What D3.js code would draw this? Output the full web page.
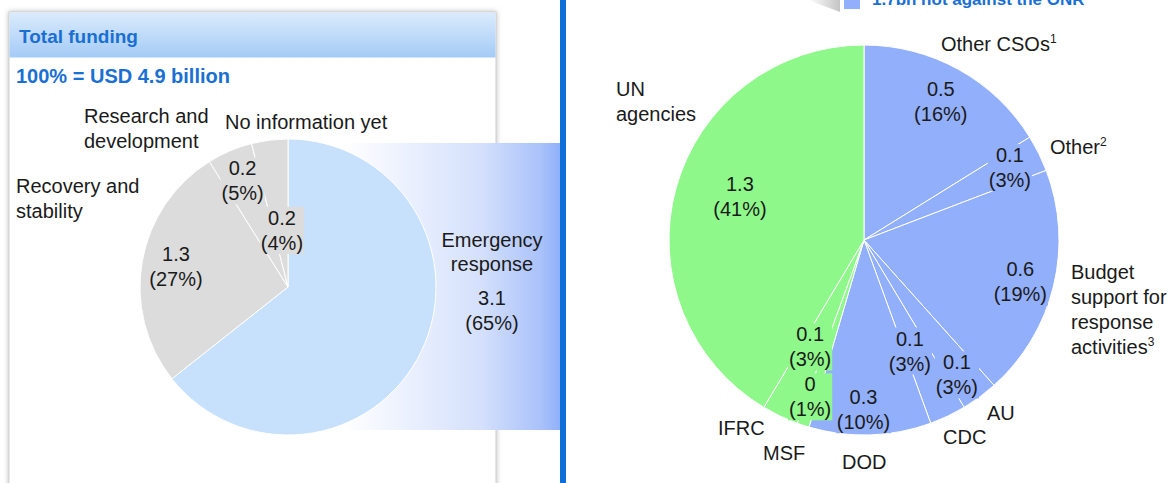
<!DOCTYPE html>
<html>
<head>
<meta charset="utf-8">
<script src="https://cdn.jsdelivr.net/npm/d3@7"></script>
<style>
  body { margin: 0; background: #fff; }
  svg text { font-family: "Liberation Sans", Arial, sans-serif; }
</style>
</head>
<body>
<div id="chart"></div>
<script>
'use strict';

// ---- data: total funding split (USD bn, share %)
var fundCategories = [ 'Emergency response', 'Recovery and stability', 'Research and development', 'No information yet' ];
var fundValues = [ 3.1, 1.3, 0.2, 0.2 ];
var fundShares = [ 65, 27, 5, 4 ];

// ---- data: emergency response by recipient (USD bn, share %)
var recipCategories = [ 'Other CSOs', 'Other', 'Budget support for response activities', 'AU', 'CDC', 'DOD', 'MSF', 'IFRC', 'UN agencies' ];
var recipValues = [ 0.5, 0.1, 0.6, 0.1, 0.1, 0.3, 0, 0.1, 1.3 ];
var recipShares = [ 16, 3, 19, 3, 3, 10, 1, 3, 41 ];
var recipGroup = [ 'notOnr', 'notOnr', 'notOnr', 'notOnr', 'notOnr', 'notOnr', 'onr', 'onr', 'onr' ];

var totalLabel = '100% = USD 4.9 billion';
var legendLabel = '1.7bn not against the ONR';

// ---- layout (label placement only)
var leftPie = { cx: 288, cy: 287, r: 148 },
    rightPie = { cx: 864, cy: 240, r: 195 };

var fundLabelPos = [ { r: 1.387, shift: -19.4 }, { r: 0.77, shift: 0.8 }, { r: 0.78, shift: 0 }, { r: 0.385, shift: 1 } ];
var recipLabelPos = [ { r: 0.81 }, { r: 0.835 }, { r: 0.83, shift: 1.4 }, { r: 0.84, shift: 1.8 }, { r: 0.616, shift: 3 },
                      { r: 0.87, shift: 2 }, { r: 0.85, shift: 0.8 }, { r: 0.614, shift: 1.3 }, { r: 0.675, shift: 4 } ];

var fundNames = [
  { lines: [ 'Emergency', 'response' ], x: 492, y: 240, anchor: 'middle' },
  { lines: [ 'Recovery and', 'stability' ], x: 16, y: 186 },
  { lines: [ 'Research and', 'development' ], x: 84, y: 116 },
  { lines: [ 'No information yet' ], x: 225, y: 122 }
];
var recipNames = [
  { lines: [ 'Other CSOs' ], sup: '1', x: 941, y: 44 },
  { lines: [ 'Other' ], sup: '2', x: 1050, y: 147 },
  { lines: [ 'Budget', 'support for', 'response', 'activities' ], sup: '3', x: 1071, y: 272 },
  { lines: [ 'AU' ], x: 987, y: 413 },
  { lines: [ 'CDC' ], x: 943, y: 437 },
  { lines: [ 'DOD' ], x: 842, y: 462 },
  { lines: [ 'MSF' ], x: 763, y: 453 },
  { lines: [ 'IFRC' ], x: 718, y: 428 },
  { lines: [ 'UN', 'agencies' ], x: 616, y: 89 }
];

var fundColors = [ '#c7e0fb', '#dcdcdc', '#dcdcdc', '#dcdcdc' ];
var groupColors = { notOnr: '#92affb', onr: '#8ff88b' };
var brandBlue = '#1a6fd3';
var lineGap = 25;

var svg = d3.select( '#chart' )
  .append( 'svg' )
    .attr( 'width', 1172 )
    .attr( 'height', 483 );

var defs = svg.append( 'defs' );

var shadow = defs.append( 'filter' ).attr( 'id', 'shadow' )
    .attr( 'x', '-5%' ).attr( 'y', '-5%' ).attr( 'width', '110%' ).attr( 'height', '110%' );
shadow.append( 'feDropShadow' )
    .attr( 'dx', 0 ).attr( 'dy', 0 )
    .attr( 'stdDeviation', 2.5 )
    .attr( 'flood-color', '#888' )
    .attr( 'flood-opacity', 0.6 );

var headGrad = defs.append( 'linearGradient' ).attr( 'id', 'headGrad' )
    .attr( 'x1', 0 ).attr( 'y1', 0 ).attr( 'x2', 0 ).attr( 'y2', 1 );
headGrad.append( 'stop' ).attr( 'offset', '0%' ).attr( 'stop-color', '#dbebfc' );
headGrad.append( 'stop' ).attr( 'offset', '100%' ).attr( 'stop-color', '#a4cbf7' );

var bandGrad = defs.append( 'linearGradient' ).attr( 'id', 'bandGrad' )
    .attr( 'gradientUnits', 'userSpaceOnUse' )
    .attr( 'x1', leftPie.cx ).attr( 'y1', 0 ).attr( 'x2', 560 ).attr( 'y2', 0 );
[ [ 0, '#ffffff' ], [ 0.2, '#ffffff' ], [ 0.71, '#d4e0fc' ], [ 0.93, '#aac2fb' ], [ 1, '#8fb0fa' ] ].forEach( function( s ) {
  bandGrad.append( 'stop' ).attr( 'offset', s[0] ).attr( 'stop-color', s[1] );
} );

var tipGrad = defs.append( 'linearGradient' ).attr( 'id', 'tipGrad' )
    .attr( 'x1', 0 ).attr( 'y1', 0 ).attr( 'x2', 1 ).attr( 'y2', 0 );
tipGrad.append( 'stop' ).attr( 'offset', '0%' ).attr( 'stop-color', '#ffffff' );
tipGrad.append( 'stop' ).attr( 'offset', '100%' ).attr( 'stop-color', '#c4c4c4' );

// ---- left panel frame
svg.append( 'rect' )
  .attr( 'x', 9 ).attr( 'y', 12 )
  .attr( 'width', 487 ).attr( 'height', 520 )
  .attr( 'fill', '#fff' )
  .attr( 'stroke', '#cfcfcf' )
  .attr( 'filter', 'url(#shadow)' );

svg.append( 'rect' )
  .attr( 'x', 9.5 ).attr( 'y', 12.5 )
  .attr( 'width', 486 ).attr( 'height', 45 )
  .attr( 'fill', 'url(#headGrad)' );

svg.append( 'text' )
  .attr( 'x', 19 ).attr( 'y', 43 )
  .attr( 'font-size', 19 ).attr( 'font-weight', 'bold' )
  .attr( 'fill', brandBlue )
  .text( 'Total funding' );

svg.append( 'text' )
  .attr( 'x', 16 ).attr( 'y', 83 )
  .attr( 'font-size', 20 ).attr( 'font-weight', 'bold' )
  .attr( 'fill', brandBlue )
  .text( totalLabel );

// ---- band linking emergency response to the right chart
svg.append( 'rect' )
  .attr( 'x', leftPie.cx ).attr( 'y', 143 )
  .attr( 'width', 560 - leftPie.cx ).attr( 'height', 287 )
  .attr( 'fill', 'url(#bandGrad)' );

// ---- right panel top legend
svg.append( 'path' )
  .attr( 'd', 'M808,0 L840,0 L840,12 Z' )
  .attr( 'fill', 'url(#tipGrad)' );
svg.append( 'rect' )
  .attr( 'x', 844 ).attr( 'y', -6 )
  .attr( 'width', 16 ).attr( 'height', 15 )
  .attr( 'fill', groupColors.notOnr );
svg.append( 'text' )
  .attr( 'x', 872 ).attr( 'y', 5 )
  .attr( 'font-size', 17 ).attr( 'font-weight', 'bold' )
  .attr( 'fill', brandBlue )
  .text( legendLabel );

// ---- divider
svg.append( 'rect' )
  .attr( 'x', 560 ).attr( 'y', 0 )
  .attr( 'width', 6 ).attr( 'height', 483 )
  .attr( 'fill', '#0f6fd6' );

var pie = d3.pie()
    .sort( null )
    .value( function( d ) { return d; } );

function drawPie( centre, shares, values, colors, labelPos ) {
  var arcs = pie( shares );
  var arc = d3.arc().innerRadius( 0 ).outerRadius( centre.r );
  var g = svg.append( 'g' )
      .attr( 'transform', 'translate(' + centre.cx + ',' + centre.cy + ')' );

  g.selectAll( 'path' )
    .data( arcs )
    .enter().append( 'path' )
      .attr( 'd', arc )
      .attr( 'fill', function( d, i ) { return colors[i]; } )
      .attr( 'stroke', '#fff' )
      .attr( 'stroke-width', 1 );

  arcs.forEach( function( d, i ) {
    var lp = labelPos[i];
    var a = ( d.startAngle + d.endAngle ) / 2 + ( lp.shift || 0 ) * Math.PI / 180;
    var x = lp.r * centre.r * Math.sin( a ),
        y = -lp.r * centre.r * Math.cos( a );
    var lg = g.append( 'g' );
    var bg = lg.append( 'rect' );
    var t = lg.append( 'text' )
        .attr( 'text-anchor', 'middle' )
        .attr( 'font-size', 20 )
        .attr( 'fill', '#1a1a1a' );
    t.append( 'tspan' ).attr( 'x', x ).attr( 'y', y - lineGap / 2 + 7 ).text( values[i] );
    t.append( 'tspan' ).attr( 'x', x ).attr( 'y', y + lineGap / 2 + 7 ).text( '(' + shares[i] + '%)' );

    // labels inside the pie sit on a box of the slice colour
    if ( lp.r < 1 ) {
      var bb = t.node().getBBox();
      bg.attr( 'x', bb.x - 1 ).attr( 'y', bb.y )
        .attr( 'width', bb.width + 2 ).attr( 'height', bb.height )
        .attr( 'fill', colors[i] );
    } else {
      bg.remove();
    }
  } );
}

function drawNames( names ) {
  names.forEach( function( n ) {
    var t = svg.append( 'text' )
        .attr( 'font-size', 20 )
        .attr( 'fill', '#1a1a1a' )
        .attr( 'text-anchor', n.anchor || 'start' );
    n.lines.forEach( function( line, k ) {
      var ts = t.append( 'tspan' )
          .attr( 'x', n.x )
          .attr( 'y', n.y + k * ( n.anchor ? 24 : lineGap ) + 7 )
          .text( line );
      if ( n.sup && k === n.lines.length - 1 ) {
        t.append( 'tspan' )
          .attr( 'font-size', 12 )
          .attr( 'dy', -8 )
          .text( n.sup );
      }
    } );
  } );
}

drawPie( leftPie, fundShares, fundValues, fundColors, fundLabelPos );
drawNames( fundNames );

var recipColors = recipGroup.map( function( g ) { return groupColors[g]; } );
drawPie( rightPie, recipShares, recipValues, recipColors, recipLabelPos );
drawNames( recipNames );
</script>
</body>
</html>
